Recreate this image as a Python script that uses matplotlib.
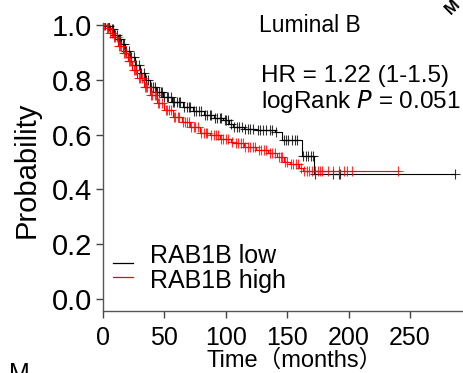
import numpy as np
import matplotlib
matplotlib.use("Agg")
import matplotlib.pyplot as plt

plt.rcParams['font.family'] = ['Liberation Sans', 'Noto Sans CJK SC', 'DejaVu Sans']

# Kaplan-Meier step curves (months, survival)
low_t = [0, 3, 6, 9, 12, 15, 18, 22, 26, 30, 34, 38, 43, 49, 56, 65, 73, 82, 90, 98,
         103, 106, 115, 125, 140, 146, 162, 172, 287]
low_p = [1.0, 0.995, 0.985, 0.965, 0.95, 0.93, 0.905, 0.883, 0.855, 0.825, 0.80, 0.774,
         0.755, 0.737, 0.718, 0.70, 0.686, 0.672, 0.662, 0.653, 0.64, 0.628, 0.622, 0.617,
         0.609, 0.58, 0.522, 0.455, 0.455]
high_t = [0, 3, 6, 8, 12, 16, 20, 24, 28, 33, 38, 44, 50, 57, 64, 71, 79, 87, 95, 104,
          106, 115, 125, 134, 142, 147, 152, 160, 163, 240]
high_p = [1.0, 0.99, 0.97, 0.956, 0.925, 0.898, 0.867, 0.836, 0.805, 0.774, 0.745, 0.715,
          0.69, 0.664, 0.645, 0.628, 0.606, 0.599, 0.585, 0.573, 0.569, 0.555, 0.544, 0.533,
          0.518, 0.50, 0.493, 0.478, 0.467, 0.467]

# censoring times
low_cens = [2, 4, 5, 7, 8, 10, 11, 13, 14, 16, 17, 19, 21, 23, 25, 27, 29, 31, 33, 35,
            37, 39, 41, 42, 44, 46, 47, 48, 50, 52, 53, 55, 57, 58, 60, 62, 63, 66, 68,
            70, 71, 74, 76, 78, 80, 83, 85, 87, 88, 91, 93, 95, 96, 99, 100, 102, 104,
            107, 109, 111, 113, 116, 118, 120, 122, 126, 128, 130, 133, 136, 138, 141,
            147, 149, 151, 154, 156, 158, 163, 165, 167, 169, 171, 173, 187, 192, 193, 287]
high_cens = [1, 3, 4, 6, 7, 9, 10, 11, 13, 14, 15, 17, 18, 19, 21, 22, 23, 25, 26, 27,
             29, 30, 32, 34, 35, 36, 39, 40, 42, 43, 45, 46, 48, 51, 52, 54, 55, 58, 59,
             61, 62, 65, 67, 68, 70, 72, 74, 75, 77, 80, 82, 84, 85, 88, 90, 92, 94, 96,
             98, 100, 102, 105, 108, 110, 112, 114, 116, 118, 120, 122, 124, 127, 129,
             131, 133, 136, 138, 140, 143, 145, 146, 148, 150, 153, 155, 157, 159, 161,
             164, 166, 168, 170, 173, 175, 177, 178, 183, 187, 192, 196, 199, 203, 240]

groups = ['RAB1B low', 'RAB1B high']
colors = ['black', 'red']
yticks = [0.0, 0.2, 0.4, 0.6, 0.8, 1.0]
xticks = [0, 50, 100, 150, 200, 250]


def step_value(times, probs, x):
    idx = np.searchsorted(times, x, side='right') - 1
    return np.array(probs)[idx]


fig = plt.figure(figsize=(4.64, 3.73), dpi=100)
ax = fig.add_axes([0.222, 0.166, 0.778, 0.772])

for t, p, c, cens, z in [(low_t, low_p, colors[0], low_cens, 2),
                         (high_t, high_p, colors[1], high_cens, 3)]:
    ax.step(t, p, where='post', color=c, lw=0.8, zorder=z)
    ax.plot(cens, step_value(t, p, cens), '+', color=c, ms=7, mew=0.8, alpha=0.8, zorder=z)

ax.set_xlim(0, 294)
ax.set_ylim(-0.044, 1.007)
ax.set_xticks(xticks)
ax.set_yticks(yticks)
ax.set_yticklabels(['%.1f' % v for v in yticks])
ax.tick_params(colors='#444444', labelcolor='black', length=5, width=1)
ax.tick_params(axis='y', labelsize=21, pad=3)
ax.tick_params(axis='x', labelsize=18, pad=6)
for s in ['top', 'right']:
    ax.spines[s].set_visible(False)
for s in ['left', 'bottom']:
    ax.spines[s].set_color('#555555')
    ax.spines[s].set_linewidth(1)

ax.set_ylabel('Probability', fontsize=21)
ax.yaxis.set_label_coords(-0.172, 0.49)
ax.set_xlabel('Time（months）', fontsize=17, va='baseline')
ax.xaxis.set_label_coords(0.53, -0.194)

# legend drawn by hand: short lines sit a little below their labels
line_y = [0.167, 0.118]
text_y = [0.167, 0.080]
for g, c, ly, ty in zip(groups, colors, line_y, text_y):
    ax.plot([0.028, 0.083], [ly, ly], color=c, lw=0.9, transform=ax.transAxes, clip_on=False)
    ax.text(0.13, ty, g, transform=ax.transAxes, fontsize=18, va='baseline')

ax.text(0.432, 0.969, 'Luminal B', transform=ax.transAxes, fontsize=16.5, va='baseline')
ax.text(0.438, 0.795, 'HR = 1.22 (1-1.5)', transform=ax.transAxes, fontsize=17.5, va='baseline')
ax.text(0.438, 0.705, 'logRank $\\it{P}$ = 0.051', transform=ax.transAxes, fontsize=17.5,
        va='baseline')

# fragments of neighbouring panels
fig.text(0.02, 0.03, 'M', fontsize=18, va='top')
fig.text(0.975, 1.01, 'M', fontsize=12, rotation=45, va='top', ha='center', weight='bold')

fig.savefig('out.png', dpi=100)
